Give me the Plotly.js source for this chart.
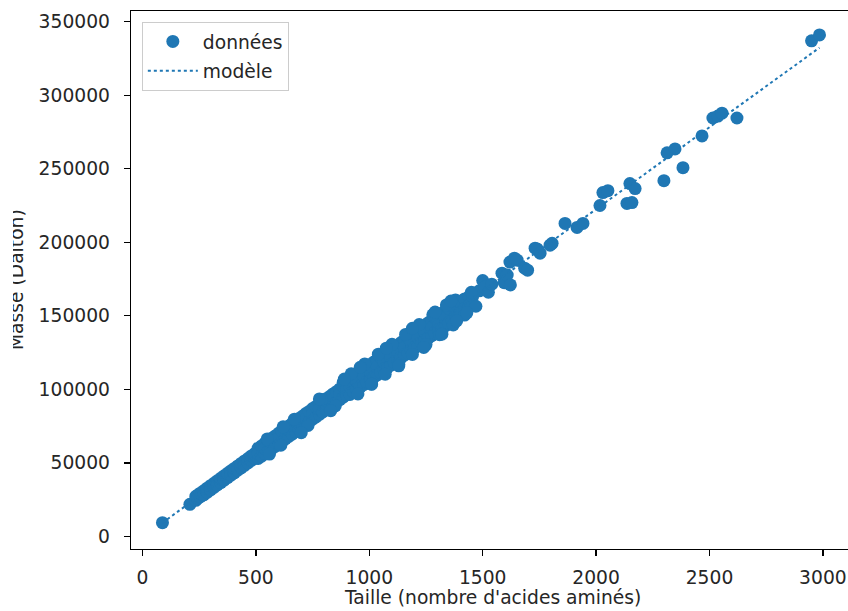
<!DOCTYPE html>
<html><head><meta charset="utf-8">
<script src="https://cdn.plot.ly/plotly-3.0.1.min.js"></script>
<style>
html,body{margin:0;padding:0;background:#fff;overflow:hidden;width:848px;height:611px;}
#chart{position:absolute;left:0;top:0;width:860px;height:611px;}
#clip{position:absolute;left:0;top:0;width:13px;height:611px;background:#fff;}
</style></head><body>
<div id="chart"></div><div id="clip"></div>
<script>
const legendData = "données";
const legendModel = "modèle";
const xTitle = "Taille (nombre d'acides aminés)";
const yTitle = "Masse (Dalton)";

const xTickValues = [0, 500, 1000, 1500, 2000, 2500, 3000];
const xTickLabels = ["0", "500", "1000", "1500", "2000", "2500", "3000"];
const yTickValues = [0, 50000, 100000, 150000, 200000, 250000, 300000, 350000];
const yTickLabels = ["0", "50000", "100000", "150000", "200000", "250000", "300000", "350000"];

const smallSizes = [88, 209];
const smallMasses = [9300, 21800];

const lowSizes = [235,235,245,245,255,255,262,270,270,282,285,285,298,300,300,312,315,315,328,330,330,342,345,345,358,360,360,372,375,375,388,390,390,402,405,405,418,420,420,432,435,435,448,450,450,462,465,465,478,480,480,492,495,495];
const lowMasses = [24500,27200,28300,26000,27000,29400,28800,31000,28300,31000,30000,32800,32700,34500,31700,34300,33300,36100,36000,37800,35000,37700,36600,39500,39400,41200,38300,41000,40000,42900,42700,44600,41600,44300,43200,46200,46100,47900,45000,47700,46600,49600,49500,51300,48300,51000,50000,52900,52800,54700,51600,54500,53200,56300];

const midSizes = [510,510,510, 525,525, 540,540,540, 555,555, 570,570,570, 585,585, 600,600,600, 615,615, 630,630,630, 645,645, 660,660,660, 675,675, 690,690,690, 705,705, 720,720,720, 735,735, 750,750,750, 765,765, 780,780,780, 795,795, 810,810,810, 825,825, 840,840,840, 855,855, 870,870,870, 885,885,885, 900,900,900];
const midMasses = [60000,53000,56500, 54500,61500, 63400,56300,59800, 58000,65000, 66800,59600,63200, 61200,68300, 70100,63000,66600, 64500,71700, 73500,66300,69900, 68000,75000, 76800,69600,73300, 71200,78400, 80200,73000,76600, 74600,81700, 83500,76300,79900, 78000,85000, 86900,79700,83300, 81200,88400, 90200,83000,86600, 84600,91800, 93600,86300,90000, 88000,95100, 96900,89700,93300, 91300,98400, 100300,93000,96700, 94600,101800,104800, 103600,96300,100000];

const highSizes = [915,915,915, 930,930, 945,945,945, 960,960, 975,975,975, 990,990, 1005,1005,1005, 1020,1020, 1035,1035,1035, 1050,1050, 1065,1065,1065, 1080,1080, 1095,1095,1095, 1110,1110, 1125,1125,1125, 1140,1140, 1155,1155,1155, 1170,1170, 1185,1185,1185, 1200,1200, 1215,1215,1215, 1230,1230, 1245,1245,1245, 1260,1260, 1275,1275,1275, 1290,1290, 1305,1305,1305, 1320,1320, 1335,1335,1335, 1350,1350, 1365,1365, 1380,1380, 1400,1400, 1420,1420, 1440,1440, 1455, 1470, 1485, 1500, 1510, 1525, 1540];
const highMasses = [96500,106800,101700, 108500,98200, 99800,110100,105000, 111800,101500, 103200,113500,108400, 115200,104800, 106500,116800,111700, 118500,108200, 109800,120200,115100, 121800,111500, 113200,123500,118400, 125200,114800, 116500,126800,121800, 128500,118200, 119800,130200,125100, 131800,121500, 123200,133500,128500, 135200,124800, 126500,136800,131800, 138500,128200, 129800,140200,135100, 141800,131500, 133200,143500,138500, 145200,134800, 136500,146800,141800, 148500,138200, 139800,150200,145200, 151800,141500, 143200,153500,148500, 155200,144800, 147000,157500, 160800,150000, 159500,152000, 161500,155000, 163000,157000, 162800, 156500, 167000, 174000, 169500, 166000, 171500];

const edgeSizes = [550, 610, 670, 730, 790, 850, 920, 950, 980, 1010, 1040, 1070, 1100, 1130, 1160, 1190, 1220, 1250, 1280, 1310, 1340, 1370, 1420];
const edgeMasses = [66300, 62000, 79700, 75400, 93100, 88800, 110600, 96900, 117300, 103600, 123900, 110300, 130600, 117000, 137300, 123700, 144000, 130400, 150700, 137100, 157400, 143800, 150500];

const straySizes = [560, 620, 700, 780, 830, 890, 960, 1010, 1075, 1130, 1190, 1240, 1290, 1320, 1360, 1385, 1430, 1450];
const strayMasses = [56000, 74500, 70500, 93500, 85500, 107000, 115000, 103500, 128000, 116000, 141500, 128500, 152500, 137500, 160000, 146500, 152000, 166000];

const outSizes = [1585,1595,1608,1620,1622,1640,1652,1685,1698,1731,1740,1753,1797,1806,1863,1916,1942,2017,2030,2052,2136,2158,2149,2172,2299,2313,2348,2383,2467,2515,2537,2555,2621,2950,2985];
const outMasses = [179000,172500,177700,186500,171000,189200,187800,182400,181000,196000,195500,192600,198000,199300,212800,210100,212800,225000,233800,235100,226400,227000,239900,236500,241900,260800,263500,250700,272300,284500,285800,287800,284500,337000,341000];

const modelSizes = [88, 2985];
const modelMasses = [9300, 332300];

const blue = '#1f77b4';
const allSizes = [].concat(smallSizes, lowSizes, midSizes, highSizes, edgeSizes, straySizes, outSizes);
const allMasses = [].concat(smallMasses, lowMasses, midMasses, highMasses, edgeMasses, strayMasses, outMasses);

const fontSize = 18.7;
const traces = [
  {x: allSizes, y: allMasses, type: 'scatter', mode: 'markers', name: legendData,
   legendgroup: 'a', marker: {color: blue, size: 13, line: {width: 0}}},
  {x: modelSizes, y: modelMasses, type: 'scatter', mode: 'lines', name: legendModel,
   legendgroup: 'b', line: {color: blue, width: 2, dash: 'dot'}}
];

const axisCommon = {showgrid: false, zeroline: false, showline: true, mirror: true,
  linecolor: '#000', linewidth: 1.3, ticks: 'outside', ticklen: 6, tickwidth: 1.3,
  tickcolor: '#000', tickfont: {family: 'DejaVu Sans', size: fontSize, color: '#262626'}};

const layout = {
  width: 860, height: 611,
  margin: {l: 131, r: 7, t: 11, b: 62},
  paper_bgcolor: '#fff', plot_bgcolor: '#fff',
  font: {family: 'DejaVu Sans', size: fontSize, color: '#262626'},
  showlegend: true,
  legend: {x: 0.015, y: 0.98, xanchor: 'left', yanchor: 'top', tracegroupgap: 2,
    bgcolor: 'rgba(255,255,255,0.8)', bordercolor: '#cccccc', borderwidth: 1,
    font: {family: 'DejaVu Sans', size: fontSize, color: '#262626'}, itemwidth: 50},
  xaxis: Object.assign({}, axisCommon, {range: [-50.7, 3132.7], tickmode: 'array',
    tickvals: xTickValues, ticktext: xTickLabels, ticklabelstandoff: 5}),
  yaxis: Object.assign({}, axisCommon, {range: [-8570, 357250], tickmode: 'array',
    tickvals: yTickValues, ticktext: yTickLabels, ticklabelstandoff: 10}),
  annotations: [
    {text: xTitle, xref: 'paper', yref: 'paper', x: 0.5, y: 0, xanchor: 'center',
     yanchor: 'middle', yshift: -48, showarrow: false,
     font: {family: 'DejaVu Sans', size: fontSize, color: '#262626'}},
    {text: yTitle, textangle: -90, xref: 'paper', yref: 'paper', x: 0, y: 0.5,
     xanchor: 'center', yanchor: 'middle', xshift: -115, showarrow: false,
     font: {family: 'DejaVu Sans', size: fontSize, color: '#262626'}}
  ]
};

Plotly.newPlot('chart', traces, layout, {displayModeBar: false, staticPlot: true});
</script>
</body></html>
